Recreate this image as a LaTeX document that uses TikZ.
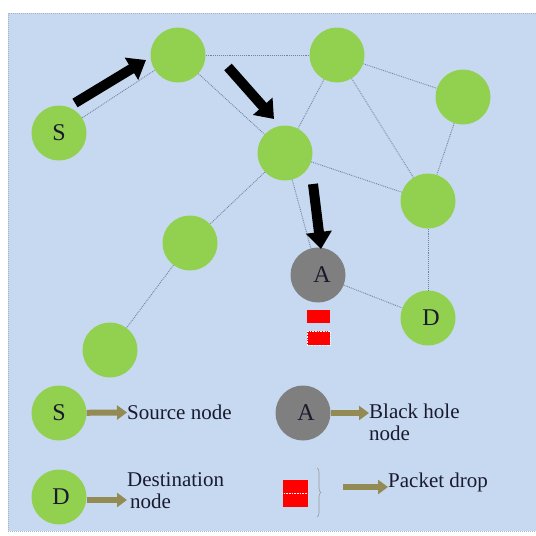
\documentclass[tikz,border=0pt]{standalone}
\usepackage{fontspec}
\setmainfont{Liberation Serif}
\usetikzlibrary{arrows.meta,positioning,decorations.pathreplacing}

\definecolor{panelblue}{HTML}{C6D9F1}
\definecolor{hostgreen}{HTML}{92D050}
\definecolor{holegray}{HTML}{7F7F7F}
\definecolor{linkgray}{HTML}{74839C}
\definecolor{keyolive}{HTML}{948A54}
\definecolor{txtdark}{HTML}{1A1A2E}

\begin{document}
\begin{tikzpicture}[
  x=1pt, y=-1pt,
  every node/.style={font=\fontsize{21}{22}\selectfont, text=txtdark},
  host/.style={circle, fill=hostgreen, minimum size=55pt, inner sep=0pt, font=\fontsize{24}{24}\selectfont},
  blackhole/.style={host, fill=holegray},
  link/.style={draw=linkgray, densely dotted, line width=0.9pt},
  flow/.style={line width=10pt, -{Triangle[width=25pt,length=17pt]}},
  keyarrow/.style={draw=keyolive, line width=6pt, -{Triangle[width=14pt,length=10pt]}},
  drop/.style={fill=red, draw=white, densely dotted, line width=0.6pt},
  lab/.style={anchor=west, align=left, inner sep=0pt}
]
  \useasboundingbox (0,0) rectangle (536,536);
  \fill[white] (0,0) rectangle (536,536);
  \draw[panelblue!60!gray, densely dotted, fill=panelblue, line width=1pt] (8,13) rectangle (540,531);

  % network
  \node[host] (s) at (59,133) {S};
  \node[host] (n1) at (178,55) {};
  \node[host] (n2) at (337,55) {};
  \node[host] (n3) at (463,97) {};
  \node[host] (n4) at (285,153) {};
  \node[host] (n5) at (428,201) {};
  \node[host] (n6) at (190,243) {};
  \node[blackhole] (a) at (318,275) {\hspace{8pt}A};
  \node[host] (d) at (428,318) {\hspace{6pt}D};
  \node[host] (n7) at (110,350) {};

  \draw[link] (s) -- (n1);
  \draw[link] (n1) -- (n2);
  \draw[link] (n1) -- (n4);
  \draw[link] (n2) -- (n4);
  \draw[link] (n2) -- (n3);
  \draw[link] (n2) -- (n5);
  \draw[link] (n3) -- (n5);
  \draw[link] (n4) -- (n5);
  \draw[link] (n4) -- (n6);
  \draw[link] (n4) -- (a);
  \draw[link] (n6) -- (n7);
  \draw[link] (a) -- (d);
  \draw[link] (n5) -- (d);

  % route taken by the packets
  \coordinate (f1s) at (75,103);
  \coordinate (f1e) at (146,60);
  \coordinate (f2s) at (228,67);
  \coordinate (f2e) at (274,119);
  \coordinate (f3s) at (313,184);
  \coordinate (f3e) at (321,249);
  \draw[flow] (f1s) -- (f1e);
  \draw[flow] (f2s) -- (f2e);
  \draw[flow] (f3s) -- (f3e);

  % dropped packets under A
  \fill[red] (307,310) rectangle (330,323);
  \draw[drop] (307,331) rectangle (330,345);

  % legend
  \node[host] (ks) at (59,413) {S};
  \node[lab] (kst) at (127,412) {Source node};
  \draw[keyarrow] (ks) -- (kst);

  \node[blackhole] (ka) at (303,413) {\hspace{6pt}A};
  \node[lab] (kat) at (369,422) {Black hole\\node};
  \draw[keyarrow] (ka) -- (kat.west |- ka);

  \node[host] (kd) at (59,497) {\hspace{4pt}D};
  \node[lab] (kdt) at (127,491) {Destination\\\hspace{3pt}node};
  \draw[keyarrow] (kd.east) ++(0,3) coordinate (kde) (kde) -- (kdt.west |- kde);

  \node[fill=red, minimum width=25pt, minimum height=27pt, inner sep=0pt] (kp) at (295,493) {};
  \draw[white, densely dotted, line width=0.6pt] (kp.west) -- (kp.east);
  \draw[decorate, decoration={brace, amplitude=4pt}, draw=gray!80, line width=0.6pt]
    (317,468) -- (317,517) coordinate[midway] (kbr);
  \node[lab] (kpt) at (388,482) {Packet drop};
  \coordinate (kps) at (343,487);
  \draw[keyarrow] (kps) -- (kpt.west |- kps);
\end{tikzpicture}
\end{document}
